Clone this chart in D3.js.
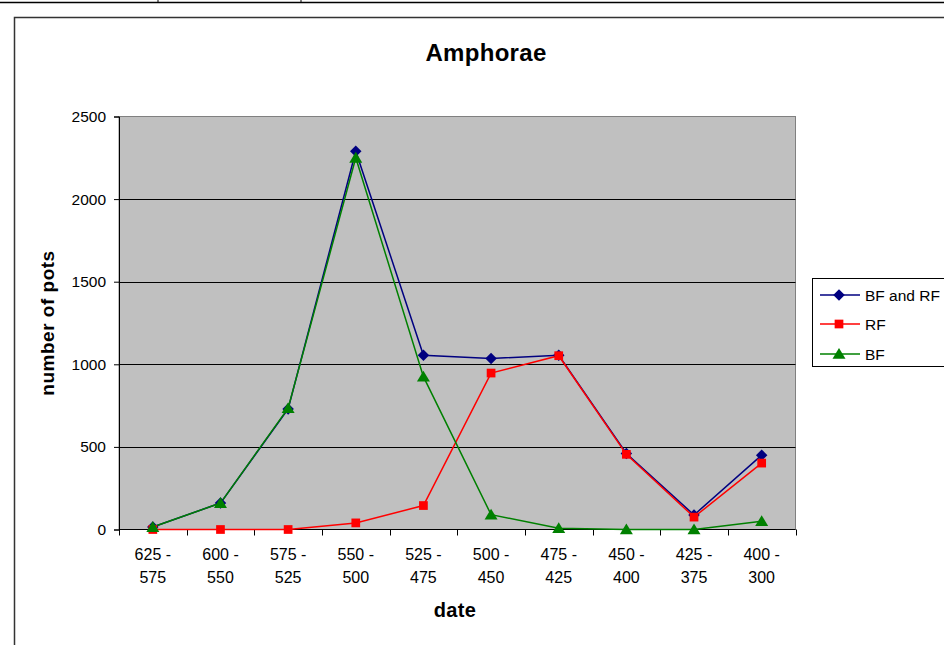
<!DOCTYPE html>
<html><head><meta charset="utf-8">
<script src="https://cdn.jsdelivr.net/npm/d3@7"></script>
<style>body{margin:0;background:#fff;} svg{display:block;font-family:"Liberation Sans",Arial,sans-serif;}</style>
</head><body>
<script>
const categories = [["625 -","575"],["600 -","550"],["575 -","525"],["550 -","500"],["525 -","475"],["500 -","450"],["475 -","425"],["450 -","400"],["425 -","375"],["400 -","300"]];
const bfAndRf = [15,160,730,2290,1055,1035,1055,460,88,450];
const rf = [0,0,0,40,145,947,1052,455,75,402];
const bf = [15,160,735,2250,925,90,8,0,0,50];
const yTicks = [0,500,1000,1500,2000,2500];
const seriesNames = ["BF and RF","RF","BF"];

const W=944,H=645;
const svg=d3.select("body").append("svg").attr("width",W).attr("height",H);
// page remnants at top
svg.append("line").attr("x1",0).attr("x2",W).attr("y1",2.5).attr("y2",2.5).attr("stroke","#000").attr("stroke-width",1.5);
[158,301].forEach(x=>svg.append("line").attr("x1",x).attr("x2",x).attr("y1",0).attr("y2",3).attr("stroke","#000"));
// chart area border
svg.append("path").attr("d",`M14.5,${H}V17.5H${W}`).attr("fill","none").attr("stroke","#333").attr("stroke-width",1.5);

const m={l:119,t:116.5,r:795.5,b:529.5};
const x=d3.scaleBand().domain(d3.range(categories.length)).range([m.l,m.r]);
const y=d3.scaleLinear().domain([0,2500]).range([m.b,m.t]);

svg.append("rect").attr("x",m.l).attr("y",m.t).attr("width",m.r-m.l).attr("height",m.b-m.t).attr("fill","#C0C0C0").attr("stroke","#808080");
// gridlines
svg.append("g").selectAll("line").data(yTicks.filter(v=>v>0&&v<2500)).join("line")
 .attr("x1",m.l).attr("x2",m.r).attr("y1",d=>Math.round(y(d))+0.5).attr("y2",d=>Math.round(y(d))+0.5).attr("stroke","#000");

// y axis
const ya=svg.append("g").attr("transform",`translate(${m.l},0)`).call(d3.axisLeft(y).tickValues(yTicks).tickFormat(d3.format("d")).tickSize(5).tickPadding(8));
ya.select(".domain").attr("stroke","#000");
ya.selectAll("text").attr("font-size",15.5).attr("fill","#000").attr("font-family","Liberation Sans, Arial, sans-serif");
// x axis
const xa=svg.append("g").attr("transform",`translate(0,${m.b})`);
xa.append("line").attr("x1",m.l).attr("x2",m.r).attr("stroke","#000");
const bounds=d3.range(categories.length+1).map(i=>m.l+i*x.step());
xa.selectAll(".tk").data(bounds).join("line").attr("class","tk").attr("x1",d=>Math.round(d)+0.5).attr("x2",d=>Math.round(d)+0.5).attr("y1",0).attr("y2",6).attr("stroke","#000");
const lab=xa.selectAll(".lb").data(categories).join("text").attr("class","lb")
 .attr("text-anchor","middle").attr("font-size",16).attr("fill","#000");
lab.append("tspan").attr("x",(d,i)=>x(i)+x.bandwidth()/2).attr("y",30).text(d=>d[0]);
lab.append("tspan").attr("x",(d,i)=>x(i)+x.bandwidth()/2).attr("y",53.5).text(d=>d[1]);

// titles
svg.append("text").attr("x",486).attr("y",61).attr("text-anchor","middle").attr("font-weight","bold").attr("font-size",24).attr("letter-spacing",0.3).text("Amphorae");
svg.append("text").attr("x",455).attr("y",617).attr("text-anchor","middle").attr("font-weight","bold").attr("font-size",20).attr("letter-spacing",0.4).text("date");
svg.append("text").attr("transform","translate(54,323) rotate(-90)").attr("text-anchor","middle").attr("font-weight","bold").attr("font-size",19).attr("letter-spacing",0.5).text("number of pots");

const cx=i=>x(i)+x.bandwidth()/2;
const line=d3.line().x((d,i)=>cx(i)).y(d=>y(d));
const diamond={draw(ctx,size){const r=Math.sqrt(size/2);ctx.moveTo(0,-r);ctx.lineTo(r,0);ctx.lineTo(0,r);ctx.lineTo(-r,0);ctx.closePath();}};
const tri={draw(ctx,size){const h=Math.sqrt(size*0.9);ctx.moveTo(0,-h*0.55);ctx.lineTo(h*0.6,h*0.45);ctx.lineTo(-h*0.6,h*0.45);ctx.closePath();}};
const series=[
 {name:seriesNames[0],data:bfAndRf,color:"#000080",sym:diamond,size:66},
 {name:seriesNames[1],data:rf,color:"#FF0000",sym:d3.symbolSquare,size:76},
 {name:seriesNames[2],data:bf,color:"#008000",sym:tri,size:130}
];
series.forEach(s=>{
 svg.append("path").datum(s.data).attr("d",line).attr("fill","none").attr("stroke",s.color).attr("stroke-width",1.5);
});
series.forEach(s=>{
 svg.append("g").selectAll("path").data(s.data).join("path")
  .attr("transform",(d,i)=>`translate(${cx(i)},${y(d)})`)
  .attr("d",d3.symbol().type(s.sym).size(s.size)).attr("fill",s.color);
});

// legend
const lg=svg.append("g");
lg.append("rect").attr("x",812.5).attr("y",278.5).attr("width",140).attr("height",88).attr("fill","#fff").attr("stroke","#000");
const rowsY=[295,324,354];
series.forEach((s,i)=>{
 const g=lg.append("g").attr("transform",`translate(0,${rowsY[i]})`);
 g.append("line").attr("x1",820).attr("x2",860).attr("stroke",s.color).attr("stroke-width",1.5);
 g.append("path").attr("transform","translate(839,0)").attr("d",d3.symbol().type(s.sym).size(s.size)).attr("fill",s.color);
 g.append("text").attr("x",865).attr("y",5.5).attr("font-size",15.5).text(s.name);
});
</script>
</body></html>
